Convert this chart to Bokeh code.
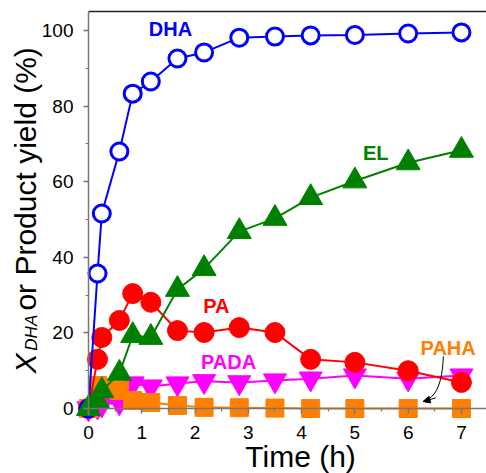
from math import pi
from bokeh.plotting import figure
from bokeh.models import LinearAxis, FixedTicker, Label, Arrow, NormalHead, Range1d
from bokeh.embed import file_html
from bokeh.resources import INLINE

# ---- data ----
time_h = [0, 0.17, 0.25, 0.58, 0.83, 1.17, 1.67, 2.17, 2.83, 3.5, 4.17, 5, 6, 7]
x_dha = [0, 35.7, 51.6, 68.0, 83.3, 86.5, 92.6, 94.2, 98.1, 98.4, 98.7, 98.8, 99.2, 99.5]
el_yield = [0, 2.0, 4.7, 9.3, 19.3, 18.8, 31.5, 37.0, 46.8, 50.3, 55.8, 60.2, 65.0, 68.3]
pa_yield = [0, 13.0, 18.8, 23.3, 30.4, 28.1, 20.6, 20.1, 21.4, 20.1, 13.0, 12.2, 10.0, 6.9]
pada_yield = [0, 0.5, 1.0, 1.6, 6.6, 5.8, 6.6, 7.2, 6.9, 7.4, 7.9, 8.7, 7.9, 8.7]
paha_yield = [0, 6.1, 5.5, 4.8, 2.1, 1.6, 0.8, 0.3, 0.2, 0.1, 0.0, 0.0, 0.0, 0.0]

x_ticks = [0, 1, 2, 3, 4, 5, 6, 7]
x_minor = [0.5, 1.5, 2.5, 3.5, 4.5, 5.5, 6.5]
y_ticks = [0, 20, 40, 60, 80, 100]
y_minor = [10, 30, 50, 70, 90]

series_names = ["DHA", "EL", "PA", "PADA", "PAHA"]
series_colors = ["#0000FF", "#008000", "#FF0000", "#FF00FF", "#FF8000"]
label_x = [1.54, 5.39, 2.40, 2.63, 6.75]
label_y = [100.3, 67.7, 27.0, 12.4, 16.1]

# PAHA pointer (curve start, controls, end)
ptr_x = [6.66, 6.64, 6.52, 6.28]
ptr_y = [13.8, 6.5, 2.8, 1.85]

# axis extents
x_view = (-1.651, 7.47)
y_view = (-17.2, 107.94)
y_top = 105.03

FONT = "Liberation Sans"

p = figure(width=486, height=473,
           x_range=Range1d(*x_view), y_range=Range1d(*y_view),
           x_axis_type=None, y_axis_type=None,
           min_border=0, min_border_left=0, min_border_right=0,
           min_border_top=0, min_border_bottom=0,
           output_backend="svg", toolbar_location=None)
p.outline_line_color = None
p.background_fill_color = "white"
p.border_fill_color = "white"

axis_col = "#777777"

xa = LinearAxis(ticker=FixedTicker(ticks=x_ticks, minor_ticks=x_minor),
                fixed_location=0, bounds=(-0.1, x_view[1]))
ya = LinearAxis(ticker=FixedTicker(ticks=y_ticks, minor_ticks=y_minor),
                fixed_location=0, bounds=(-1.8, y_top))
for ax in (xa, ya):
    ax.axis_line_color = axis_col
    ax.axis_line_width = 1.5
    ax.major_tick_line_color = axis_col
    ax.minor_tick_line_color = axis_col
    ax.major_tick_line_width = 1.5
    ax.minor_tick_line_width = 1.2
    ax.major_tick_in = 0
    ax.major_tick_out = 5
    ax.minor_tick_in = 0
    ax.minor_tick_out = 3
    ax.major_label_text_font = FONT
    ax.major_label_text_font_size = "19px"
    ax.major_label_text_color = "black"
xa.major_label_standoff = 13
ya.major_label_standoff = 10
p.add_layout(xa, "below")
p.add_layout(ya, "left")

top = LinearAxis(ticker=FixedTicker(ticks=[]), fixed_location=y_top, bounds=(0, x_view[1]))
top.axis_line_color = "#222222"
top.axis_line_width = 1.5
top.major_tick_out = 0
top.major_tick_in = 0
top.minor_tick_out = 0
top.minor_tick_in = 0
top.major_label_text_font_size = "0px"
p.add_layout(top, "above")

# ---- series ----
p.line(time_h, pada_yield, line_color=series_colors[3], line_width=2)
p.scatter(time_h, pada_yield, marker="inverted_triangle", size=23,
          fill_color=series_colors[3], line_color=series_colors[3])
p.line(time_h, paha_yield, line_color=series_colors[4], line_width=2)
p.scatter(time_h, paha_yield, marker="square", size=18,
          fill_color=series_colors[4], line_color=series_colors[4])
p.line(time_h, pa_yield, line_color=series_colors[2], line_width=2)
p.scatter(time_h, pa_yield, marker="circle", size=20,
          fill_color=series_colors[2], line_color=series_colors[2])
p.line(time_h, x_dha, line_color=series_colors[0], line_width=2)
p.scatter(time_h, x_dha, marker="circle", size=17,
          fill_color="white", line_color=series_colors[0], line_width=3)
p.line(time_h, el_yield, line_color=series_colors[1], line_width=2)
p.scatter(time_h, el_yield, marker="triangle", size=24,
          fill_color=series_colors[1], line_color=series_colors[1])

# ---- series labels ----
for name, col, lx, ly in zip(series_names, series_colors, label_x, label_y):
    p.add_layout(Label(x=lx, y=ly, text=name, text_color=col, text_font=FONT,
                       text_font_style="bold", text_font_size="20px",
                       text_align="center", text_baseline="middle"))

# PAHA pointer
p.bezier(x0=[ptr_x[0]], y0=[ptr_y[0]], cx0=[ptr_x[1]], cy0=[ptr_y[1]],
         cx1=[ptr_x[2]], cy1=[ptr_y[2]], x1=[ptr_x[3]], y1=[ptr_y[3]],
         line_color="black", line_width=1)
p.add_layout(Arrow(x_start=ptr_x[2], y_start=ptr_y[2], x_end=ptr_x[3], y_end=ptr_y[3],
                   line_color="black", line_width=1,
                   end=NormalHead(size=7, fill_color="black", line_color="black")))

# ---- axis titles ----
p.add_layout(Label(x=3.98, y=-12.6, text="Time (h)", text_font=FONT,
                   text_font_size="30px", text_color="black",
                   text_align="center", text_baseline="middle"))
p.add_layout(Label(x=-1.19, y=9.26, text="X", text_font=FONT, text_font_style="italic",
                   text_font_size="30px", text_color="black", angle=pi / 2,
                   text_align="left", text_baseline="middle"))
p.add_layout(Label(x=-1.07, y=15.3, text="DHA", text_font=FONT, text_font_style="italic",
                   text_font_size="17px", text_color="black", angle=pi / 2,
                   text_align="left", text_baseline="middle"))
p.add_layout(Label(x=-1.19, y=25.9, text="or Product yield (%)", text_font=FONT,
                   text_font_size="30px", text_color="black", angle=pi / 2,
                   text_align="left", text_baseline="middle"))

open("out.html", "w").write(file_html(p, INLINE))
